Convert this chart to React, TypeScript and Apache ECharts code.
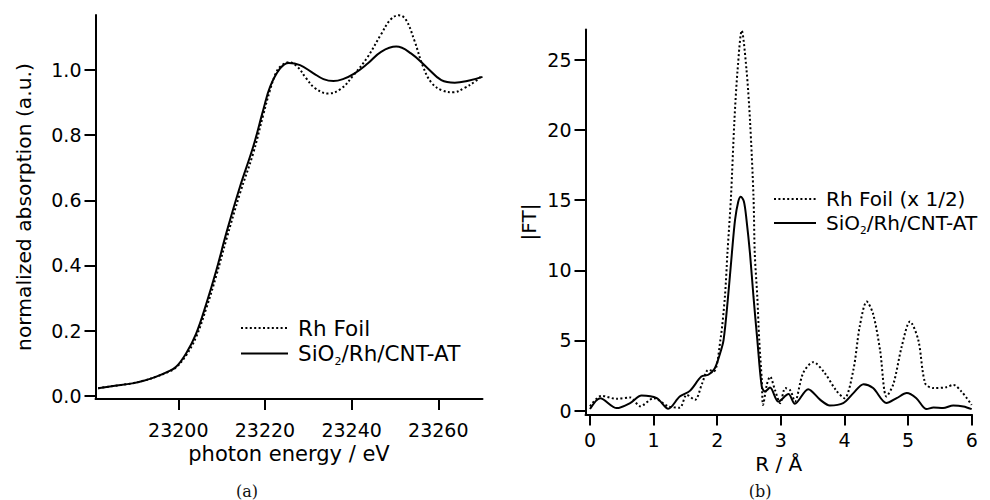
import React, { useEffect, useRef } from 'react';
import * as echarts from 'echarts';

// ---- Panel (a): XANES ----
const xanesFoilEnergy = [
  23181.5, 23185, 23189.4, 23192.5, 23194.8, 23197.5, 23199.5, 23201.8, 23204.1, 23206.5,
  23208.8, 23211.1, 23214.2, 23217.3, 23219.6, 23221.2, 23222.5, 23223.5, 23225.5, 23227.5,
  23229.5, 23231.5, 23234.5, 23237.5, 23240.5, 23243.7, 23246.8, 23249, 23250.9, 23252.5,
  23254.5, 23256.5, 23258.5, 23261, 23263.5, 23266, 23268.5, 23270.2,
];
const xanesFoilAbs = [
  0.023, 0.030, 0.038, 0.048, 0.058, 0.072, 0.087, 0.124, 0.18, 0.27,
  0.37, 0.48, 0.62, 0.745, 0.862, 0.94, 0.99, 1.01, 1.024, 1.01,
  0.975, 0.945, 0.928, 0.942, 0.985, 1.04, 1.11, 1.155, 1.168, 1.155,
  1.09, 1.01, 0.96, 0.937, 0.932, 0.945, 0.965, 0.985,
];
const xanesSampleEnergy = [
  23181.5, 23185, 23189.4, 23192.5, 23194.8, 23197.5, 23199.5, 23201.8, 23204.1, 23206.5,
  23208.8, 23211.1, 23214.2, 23217.3, 23219.6, 23221.2, 23223.5, 23225.5, 23228.1, 23231.2,
  23233.5, 23235.8, 23238, 23240.5, 23243.7, 23246.8, 23250.3, 23253.7, 23257.6, 23260.7,
  23263.8, 23266.9, 23270.2,
];
const xanesSampleAbs = [
  0.023, 0.030, 0.038, 0.048, 0.058, 0.073, 0.089, 0.130, 0.19, 0.284,
  0.386, 0.50, 0.64, 0.765, 0.877, 0.949, 1.005, 1.022, 1.015, 0.99,
  0.972, 0.966, 0.972, 0.988, 1.02, 1.056, 1.072, 1.051, 1.005, 0.969,
  0.961, 0.967, 0.979,
];
const energyTicks = [23200, 23220, 23240, 23260];
const absTicks = [0, 0.2, 0.4, 0.6, 0.8, 1.0];

// ---- Panel (b): Fourier transform ----
const ftFoilR = [
  0, 0.18, 0.42, 0.63, 0.79, 1.0, 1.23, 1.41, 1.52, 1.65,
  1.76, 1.86, 1.95, 2.05, 2.12, 2.16, 2.216, 2.27, 2.32, 2.385,
  2.46, 2.515, 2.57, 2.59, 2.63, 2.66, 2.70, 2.72, 2.78, 2.83,
  2.91, 2.99, 3.07, 3.15, 3.22, 3.35, 3.51, 3.69, 3.87, 4.0,
  4.14, 4.24, 4.35, 4.45, 4.56, 4.66, 4.77, 4.9, 5.03, 5.16,
  5.27, 5.40, 5.6, 5.71, 5.84, 6.0,
];
const ftFoilMag = [
  0.3, 1.05, 0.83, 0.93, 0.3, 0.88, 0.3, 0.2, 1.12, 0.76,
  1.9, 2.9, 2.8, 5.04, 8.1, 11.2, 15.25, 20.7, 24.3, 27.1,
  24.3, 20.7, 15.25, 11.2, 8.1, 5.04, 2.2, 0.4, 1.85, 2.42,
  1.43, 0.52, 1.6, 1.43, 0.64, 2.67, 3.45, 2.67, 1.43, 0.88,
  2.9, 6.0, 7.77, 6.9, 4.3, 1.0, 1.9, 4.56, 6.35, 5.04,
  1.93, 1.6, 1.66, 1.83, 1.35, 0.4,
];
const ftSampleR = [
  0, 0.16, 0.42, 0.63, 0.81, 1.05, 1.23, 1.41, 1.57, 1.75,
  1.86, 1.96, 2.04, 2.10, 2.17, 2.23, 2.28, 2.33, 2.37, 2.42,
  2.46, 2.515, 2.57, 2.63, 2.70, 2.75, 2.83, 2.96, 3.12, 3.22,
  3.43, 3.62, 3.77, 3.98, 4.14, 4.30, 4.45, 4.66, 4.82, 4.98,
  5.13, 5.29, 5.40, 5.55, 5.71, 5.87, 6.0,
];
const ftSampleMag = [
  0.1, 0.88, 0.17, 0.53, 1.07, 0.88, 0.12, 1.0, 1.4, 2.42,
  2.55, 3.0, 4.0, 5.04, 8.1, 11.2, 13.6, 14.9, 15.25, 14.9,
  13.6, 11.2, 8.1, 5.04, 1.7, 1.35, 1.64, 0.64, 1.17, 0.48,
  1.52, 0.76, 0.36, 0.53, 1.24, 1.88, 1.6, 0.53, 0.88, 1.24,
  0.88, 0.1, 0.22, 0.17, 0.36, 0.29, 0.1,
];
const rTicks = [0, 1, 2, 3, 4, 5, 6];
const ftTicks = [0, 5, 10, 15, 20, 25];

const FOIL_A = 'Rh Foil';
const FOIL_B = 'Rh Foil (x 1/2)';
const SAMPLE = 'SiO2/Rh/CNT-AT';

const FONT = 'DejaVu Sans';
const BLACK = '#000';

const pairs = (xs: number[], ys: number[]) => xs.map((x, i) => [x, ys[i]]);

function axisCommon(ticks: number[], fmt: (v: number) => string, margin: number, fontSize: number) {
  return {
    type: 'value' as const,
    splitLine: { show: false },
    axisLine: { show: true, onZero: false, lineStyle: { color: BLACK, width: 2 } },
    axisTick: { show: true, length: 11, customValues: ticks, lineStyle: { color: BLACK, width: 2 } },
    axisLabel: { customValues: ticks, formatter: fmt, margin, fontSize, fontFamily: FONT, color: BLACK },
    nameLocation: 'middle' as const,
  };
}

function legendCfg(
  names: string[], left: number, top: number, itemWidth: number, itemGap: number,
  fontSize: number, lineH: number, subSize: number,
) {
  return {
    data: names,
    orient: 'vertical',
    left,
    top,
    padding: 0,
    itemGap,
    itemWidth,
    itemHeight: 12,
    selectedMode: false,
    itemStyle: { opacity: 0 },
    formatter: (name: string) =>
      name === SAMPLE ? '{n|SiO}{s|2}{n|/Rh/CNT-AT}' : '{n|' + name + '}',
    textStyle: {
      color: BLACK,
      fontFamily: FONT,
      fontSize,
      padding: [0, 0, 0, 5],
      rich: {
        n: { fontFamily: FONT, fontSize, lineHeight: lineH, color: BLACK },
        s: { fontFamily: FONT, fontSize: subSize, lineHeight: subSize, verticalAlign: 'bottom', color: BLACK },
      },
    },
  };
}

export default function App() {
  const ref = useRef<HTMLDivElement>(null);
  useEffect(() => {
    if (!ref.current) return;
    const chart = echarts.init(ref.current, undefined, { renderer: 'svg' });
    const dotted = { color: BLACK, width: 2, type: [2, 2.4] as number[], cap: 'butt' as const };
    const solid = { color: BLACK, width: 2, type: 'solid' as const };
    const option = {
      animation: false,
      backgroundColor: '#fff',
      grid: [
        { left: 95.5, top: 15, width: 387, height: 384 },
        { left: 585.5, top: 29.5, width: 386.5, height: 385 },
      ],
      xAxis: [
        {
          ...axisCommon(energyTicks, (v: number) => String(v), 21, 19),
          gridIndex: 0,
          min: 23180.9,
          max: 23270.2,
          name: 'photon energy / eV',
          nameGap: 44,
          nameTextStyle: { fontFamily: FONT, fontSize: 21, color: BLACK },
        },
        {
          ...axisCommon(rTicks, (v: number) => String(v), 16, 19),
          gridIndex: 1,
          min: -0.071,
          max: 6.005,
          name: 'R / Å',
          nameGap: 37,
          nameTextStyle: { fontFamily: FONT, fontSize: 20, color: BLACK },
        },
      ],
      yAxis: [
        {
          ...axisCommon(absTicks, (v: number) => v.toFixed(1), 14, 19),
          gridIndex: 0,
          min: -0.01,
          max: 1.169,
          name: 'normalized absorption (a.u.)',
          nameGap: 62,
          nameTextStyle: { fontFamily: FONT, fontSize: 20.3, color: BLACK },
        },
        {
          ...axisCommon(ftTicks, (v: number) => String(v), 14, 19),
          gridIndex: 1,
          min: -0.285,
          max: 27.18,
          name: '|FT|',
          nameGap: 47,
          nameTextStyle: { fontFamily: FONT, fontSize: 20, color: BLACK },
        },
      ],
      legend: [
        legendCfg([FOIL_A, SAMPLE], 240, 317, 47, 3.5, 21.5, 27, 11),
        legendCfg([FOIL_B, SAMPLE], 773, 189, 42, 4, 20, 25, 10.5),
      ],
      series: [
        {
          name: FOIL_A, type: 'line', xAxisIndex: 0, yAxisIndex: 0, symbol: 'none', smooth: 0.4,
          lineStyle: dotted, itemStyle: { color: BLACK }, data: pairs(xanesFoilEnergy, xanesFoilAbs), z: 2,
        },
        {
          name: SAMPLE, type: 'line', xAxisIndex: 0, yAxisIndex: 0, symbol: 'none', smooth: 0.4,
          lineStyle: solid, itemStyle: { color: BLACK }, data: pairs(xanesSampleEnergy, xanesSampleAbs), z: 3,
        },
        {
          name: FOIL_B, type: 'line', xAxisIndex: 1, yAxisIndex: 1, symbol: 'none', smooth: 0.3,
          lineStyle: dotted, itemStyle: { color: BLACK }, data: pairs(ftFoilR, ftFoilMag), z: 2,
        },
        {
          name: SAMPLE, type: 'line', xAxisIndex: 1, yAxisIndex: 1, symbol: 'none', smooth: 0.3,
          lineStyle: solid, itemStyle: { color: BLACK }, data: pairs(ftSampleR, ftSampleMag), z: 3,
        },
      ],
      graphic: [
        {
          type: 'text', x: 247, y: 491,
          style: {
            text: '(a)', fontFamily: 'DejaVu Serif', fontSize: 16, fill: '#111',
            align: 'center', verticalAlign: 'middle',
          },
        },
        {
          type: 'text', x: 760, y: 491,
          style: {
            text: '(b)', fontFamily: 'DejaVu Serif', fontSize: 16, fill: '#111',
            align: 'center', verticalAlign: 'middle',
          },
        },
      ],
    };
    chart.setOption(option as any);
    return () => chart.dispose();
  }, []);
  return (
    <div
      ref={ref}
      style={{ position: 'fixed', left: 0, top: 0, width: 990, height: 500, background: '#fff' }}
    />
  );
}
